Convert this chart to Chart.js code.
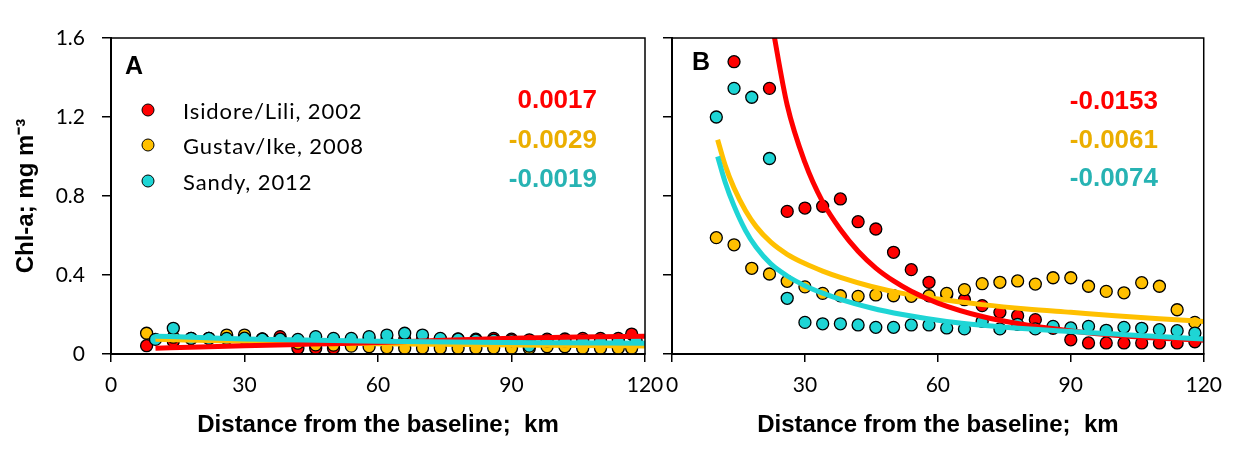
<!DOCTYPE html>
<html>
<head>
<meta charset="utf-8">
<script src="https://cdn.jsdelivr.net/npm/chart.js@4.4.0/dist/chart.umd.min.js"></script>
<style>
    html, body { margin: 0; padding: 0; background: #fff; }
    #wrap { position: relative; width: 1233px; height: 473px; overflow: hidden; }
    .panel { position: absolute; top: 0; height: 473px; }
    .txt { position: absolute; line-height: 1; transform: translateY(-50%); white-space: nowrap; }
    .letter { font: bold 25px "Liberation Sans", Arial, sans-serif; color: #000; }
    .slope { font: bold 26px "Liberation Sans", Arial, sans-serif; text-align: right; }
    .leg { font: 22px Lato, sans-serif; letter-spacing: 0.9px; color: #000; }
    .dot { position: absolute; width: 11px; height: 11px; border: 1.5px solid #000; border-radius: 50%; transform: translate(-50%, -50%); }
</style>
</head>
<body>
<div id="wrap">
    <div class="panel" style="left:0;width:680px"><canvas id="chartA"></canvas></div>
    <div class="panel" style="left:650px;width:583px"><canvas id="chartB"></canvas></div>

    <div class="txt letter" style="left:125px;top:65px">A</div>
    <div class="txt letter" style="left:692px;top:61px">B</div>

    <div class="dot" style="left:148px;top:110px;background:#FF0000"></div>
    <div class="dot" style="left:148px;top:145px;background:#FFC000"></div>
    <div class="dot" style="left:148px;top:181px;background:#1ED5D5"></div>
    <div class="txt leg" style="left:183px;top:110px">Isidore/Lili, 2002</div>
    <div class="txt leg" style="left:183px;top:145px">Gustav/Ike, 2008</div>
    <div class="txt leg" style="left:183px;top:181px">Sandy, 2012</div>

    <div class="txt slope" style="right:636px;top:99px;color:#FF0000">0.0017</div>
    <div class="txt slope" style="right:636px;top:139px;color:#EBAE00">-0.0029</div>
    <div class="txt slope" style="right:636px;top:178px;color:#27B3B3">-0.0019</div>
    <div class="txt slope" style="right:75px;top:100px;color:#FF0000">-0.0153</div>
    <div class="txt slope" style="right:75px;top:139px;color:#EBAE00">-0.0061</div>
    <div class="txt slope" style="right:75px;top:177px;color:#27B3B3">-0.0074</div>
</div>

<script>
// Panel A - observations (km, mg m-3)
const distA = [8, 14, 18, 22, 26, 30, 34, 38, 42, 46, 50, 54, 58, 62, 66, 70, 74, 78, 82, 86, 90, 94, 98, 102, 106, 110, 114, 117];
const distASandy = [10, 14, 18, 22, 26, 30, 34, 38, 42, 46, 50, 54, 58, 62, 66, 70, 74, 78, 82, 86, 90, 94, 98, 102, 106, 110, 114, 118];
const isidoreA = [0.042, 0.065, 0.078, 0.079, 0.080, 0.085, 0.076, 0.088, 0.029, 0.029, 0.029, 0.074, 0.075, 0.072, 0.074, 0.072, 0.075, 0.076, 0.075, 0.079, 0.075, 0.072, 0.075, 0.076, 0.079, 0.079, 0.079, 0.101];
const gustavA = [0.105, 0.085, 0.079, 0.079, 0.096, 0.096, 0.075, 0.070, 0.055, 0.046, 0.045, 0.040, 0.037, 0.032, 0.029, 0.030, 0.029, 0.029, 0.029, 0.030, 0.029, 0.029, 0.037, 0.037, 0.029, 0.029, 0.029, 0.029];
const sandyA = [0.074, 0.130, 0.079, 0.079, 0.079, 0.080, 0.075, 0.075, 0.074, 0.088, 0.079, 0.079, 0.088, 0.096, 0.105, 0.096, 0.079, 0.075, 0.070, 0.070, 0.068, 0.040, 0.065, 0.065, 0.068, 0.068, 0.068, 0.068];

// Panel A - fitted curves
const isidoreFitXA = [10, 20, 30, 45, 60, 75, 90, 105, 120];
const isidoreFitYA = [0.029, 0.036, 0.042, 0.050, 0.058, 0.070, 0.080, 0.086, 0.090];
const gustavFitXA = [10, 30, 60, 90, 120];
const gustavFitYA = [0.075, 0.064, 0.052, 0.046, 0.040];
const sandyFitXA = [10, 20, 30, 60, 100, 120];
const sandyFitYA = [0.090, 0.084, 0.076, 0.064, 0.057, 0.054];

// Panel B - observations
const distB = [10, 14, 18, 22, 26, 30, 34, 38, 42, 46, 50, 54, 58, 62, 66, 70, 74, 78, 82, 86, 90, 94, 98, 102, 106, 110, 114, 118];
const isidoreB = [null, 1.48, null, 1.345, 0.722, 0.739, 0.748, 0.785, 0.670, 0.633, 0.515, 0.427, 0.363, 0.300, 0.275, 0.245, 0.211, 0.194, 0.174, 0.130, 0.072, 0.056, 0.056, 0.056, 0.056, 0.056, 0.056, 0.062];
const gustavB = [0.589, 0.553, 0.434, 0.405, 0.368, 0.340, 0.307, 0.295, 0.292, 0.299, 0.295, 0.292, 0.295, 0.307, 0.326, 0.356, 0.363, 0.370, 0.354, 0.386, 0.386, 0.343, 0.317, 0.310, 0.361, 0.343, 0.224, 0.160];
const sandyB = [1.20, 1.345, 1.30, 0.99, 0.282, 0.160, 0.153, 0.153, 0.147, 0.135, 0.135, 0.147, 0.147, 0.132, 0.127, 0.165, 0.127, 0.150, 0.127, 0.140, 0.132, 0.140, 0.120, 0.135, 0.130, 0.123, 0.118, 0.106];

// Panel B - fitted curves
const isidoreFitXB = [22.5, 26, 30, 34, 38, 42, 46, 50, 54, 60, 70, 80, 90, 100, 110, 120];
const isidoreFitYB = [1.68, 1.26, 0.97, 0.77, 0.63, 0.52, 0.435, 0.37, 0.318, 0.258, 0.19, 0.147, 0.117, 0.095, 0.080, 0.070];
const gustavFitXB = [10.3, 12, 14, 16.6, 19, 22.3, 26, 30, 34, 38, 45, 52, 60, 70, 80, 90, 100, 110, 120];
const gustavFitYB = [1.085, 0.955, 0.84, 0.725, 0.645, 0.566, 0.505, 0.458, 0.42, 0.388, 0.342, 0.307, 0.278, 0.25, 0.228, 0.211, 0.194, 0.179, 0.165];
const sandyFitXB = [10.3, 12, 14, 16.6, 19, 22.3, 26, 30, 34, 38, 45, 52, 62, 70, 80, 90, 100, 110, 120];
const sandyFitYB = [1.0, 0.87, 0.75, 0.625, 0.54, 0.456, 0.395, 0.346, 0.308, 0.277, 0.233, 0.20, 0.165, 0.146, 0.128, 0.114, 0.101, 0.088, 0.076];

// Axis
const xTicks = [0, 30, 60, 90, 120];
const yTicks = [0, 0.4, 0.8, 1.2, 1.6];

const RED = '#FF0000';
const GOLD = '#FFC000';
const CYAN = '#1ED5D5';
const TITLE_FONT = { family: '"Liberation Sans", Arial, sans-serif', size: 24, weight: 'bold' };
const TICK_FONT = { family: 'Lato, sans-serif', size: 21 };

function toPoints(xs, ys) {
    return xs.map((x, i) => ({ x: x, y: ys[i] }));
}

function pointSet(xs, ys, color, order) {
    return {
        data: toPoints(xs, ys),
        backgroundColor: color,
        borderColor: '#000',
        borderWidth: 1.3,
        pointRadius: 6,
        order: order
    };
}

function lineSet(xs, ys, color, order) {
    return {
        data: toPoints(xs, ys),
        showLine: true,
        borderColor: color,
        borderWidth: 5,
        pointRadius: 0,
        cubicInterpolationMode: 'monotone',
        order: order
    };
}

// box around the plot area (top + right sides)
const frameBox = {
    id: 'frameBox',
    afterDatasetsDraw(chart) {
        const { ctx, chartArea: a } = chart;
        ctx.save();
        ctx.strokeStyle = '#000';
        ctx.lineWidth = 1.5;
        ctx.strokeRect(a.left, a.top, a.right - a.left, a.bottom - a.top);
        ctx.restore();
    }
};

function makeChart(id, datasets, opts) {
    return new Chart(document.getElementById(id), {
        type: 'scatter',
        data: { datasets: datasets },
        plugins: [frameBox],
        options: {
            responsive: true,
            maintainAspectRatio: false,
            animation: false,
            events: [],
            layout: { padding: { left: 0, top: 38, right: opts.padRight, bottom: 0 } },
            plugins: { legend: { display: false }, tooltip: { enabled: false } },
            scales: {
                x: {
                    type: 'linear',
                    min: 0,
                    max: 120,
                    afterBuildTicks: s => { s.ticks = xTicks.map(v => ({ value: v })); },
                    afterFit: s => { s.height = 119; },
                    ticks: { font: TICK_FONT, color: '#000', padding: 11 },
                    grid: { drawOnChartArea: false, tickLength: 8, color: '#000', lineWidth: 1.5 },
                    border: { color: '#000', width: 2 },
                    title: {
                        display: true,
                        text: 'Distance from the baseline;  km',
                        font: TITLE_FONT,
                        color: '#000',
                        padding: { top: 0, bottom: 33 }
                    }
                },
                y: {
                    type: 'linear',
                    min: 0,
                    max: 1.6,
                    afterBuildTicks: s => { s.ticks = yTicks.map(v => ({ value: v })); },
                    afterFit: s => { s.width = opts.yWidth; },
                    ticks: {
                        display: opts.yLabels,
                        font: TICK_FONT,
                        color: '#000',
                        padding: 17,
                        callback: v => String(v)
                    },
                    grid: { drawOnChartArea: false, tickLength: 9, color: '#000', lineWidth: 1.5 },
                    border: { color: '#000', width: 2 },
                    title: {
                        display: opts.yLabels,
                        text: 'Chl-a; mg m⁻³',
                        font: TITLE_FONT,
                        color: '#000',
                        padding: { top: 12, bottom: 0 }
                    }
                }
            }
        }
    });
}

makeChart('chartA', [
    pointSet(distA, isidoreA, RED, 6),
    pointSet(distA, gustavA, GOLD, 5),
    pointSet(distASandy, sandyA, CYAN, 4),
    lineSet(gustavFitXA, gustavFitYA, GOLD, 3),
    lineSet(isidoreFitXA, isidoreFitYA, RED, 2),
    lineSet(sandyFitXA, sandyFitYA, CYAN, 1)
], { padRight: 35, yWidth: 111, yLabels: true });

makeChart('chartB', [
    pointSet(distB, isidoreB, RED, 6),
    pointSet(distB, gustavB, GOLD, 5),
    pointSet(distB, sandyB, CYAN, 4),
    lineSet(gustavFitXB, gustavFitYB, GOLD, 3),
    lineSet(isidoreFitXB, isidoreFitYB, RED, 2),
    lineSet(sandyFitXB, sandyFitYB, CYAN, 1)
], { padRight: 29, yWidth: 22, yLabels: false });
</script>
</body>
</html>
